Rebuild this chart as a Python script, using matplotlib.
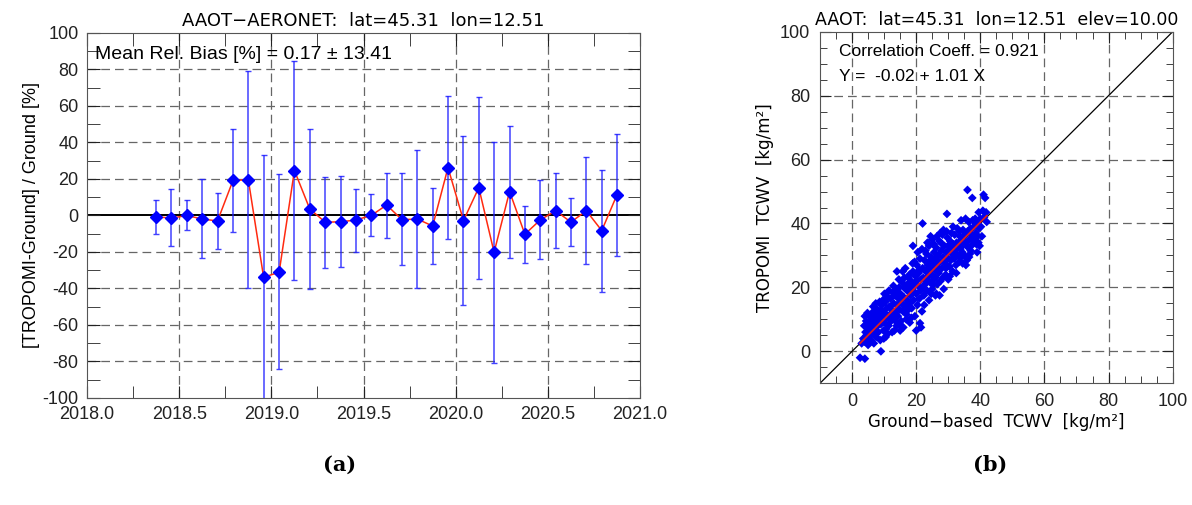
import matplotlib
matplotlib.use("Agg")
import matplotlib.pyplot as plt
import numpy as np
from matplotlib.ticker import MultipleLocator, FormatStrFormatter

plt.rcParams["axes.unicode_minus"] = False

# ---------------- Panel (a) data ----------------
dec_year = [2018.375, 2018.458, 2018.542, 2018.625, 2018.708, 2018.792, 2018.875, 2018.958,
            2019.042, 2019.125, 2019.208, 2019.292, 2019.375, 2019.458, 2019.542, 2019.625,
            2019.708, 2019.792, 2019.875, 2019.958, 2020.042, 2020.125, 2020.208, 2020.292,
            2020.375, 2020.458, 2020.542, 2020.625, 2020.708, 2020.792, 2020.875]
rel_bias = [-0.7, -1.5, 0.0, -2.0, -3.0, 19.2, 19.5, -33.9, -31.1, 24.6, 3.6, -3.7, -3.5,
            -2.5, 0.0, 5.7, -2.3, -2.0, -5.8, 26.2, -2.8, 15.2, -20.2, 13.1, -10.3, -2.5,
            2.6, -3.7, 2.6, -8.3, 11.4]
err_top = [8.5, 14.3, 8.5, 20.0, 12.5, 47.2, 79.0, 33.3, 22.6, 84.7, 47.2, 21.1, 21.5,
           14.7, 11.6, 23.5, 23.0, 36.0, 15.0, 65.3, 43.4, 64.7, 40.1, 48.9, 5.4, 19.3,
           23.5, 9.4, 31.9, 24.9, 44.8]
err_bot = [-10.0, -16.5, -8.0, -23.5, -18.4, -9.0, -40.0, -110.0, -84.3, -35.5, -40.3,
           -28.8, -28.4, -19.8, -11.2, -12.3, -27.0, -39.5, -26.5, -12.9, -49.0, -34.8,
           -80.6, -23.1, -25.8, -24.0, -18.0, -17.0, -26.6, -41.7, -22.2]
mean_bias, std_bias = 0.17, 13.41

# ---------------- Panel (b) data ----------------
ground_tcwv = [
    2.5, 4.0, 3.0, 3.5, 4.0, 4.2, 4.5, 4.8, 5.0, 5.2, 5.5, 5.8, 4.0, 4.8, 5.5, 3.8, 6.0, 5.0, 6.2, 4.4,
    6.5, 6.8, 7.0, 7.2, 7.5, 7.8, 8.0, 8.2, 8.5, 8.8, 9.0, 9.0, 9.2, 9.5, 9.8, 6.6, 7.4, 8.6, 9.4, 7.0,
    8.0, 9.9, 6.2, 7.6, 8.4, 9.6, 6.9, 8.9,
    10.0, 10.2, 10.4, 10.6, 10.8, 11.0, 11.2, 11.4, 11.6, 11.8, 12.0, 12.2, 12.4, 12.6, 12.8, 13.0,
    13.2, 13.4, 13.6, 13.8, 14.0, 14.0, 10.5, 11.5, 12.5, 13.5, 10.1, 11.1, 12.9, 13.9,
    14.3, 14.5, 14.7, 14.9, 15.1, 15.3, 15.5, 15.7, 15.9, 16.1, 16.3, 16.5, 16.7, 16.9, 17.1, 17.3,
    17.5, 17.7, 17.9, 18.0, 15.0, 16.0, 17.0, 18.0, 14.6, 15.8, 16.6, 17.6, 18.0, 14.8, 16.2, 17.2,
    18.2, 18.4, 18.6, 18.8, 19.0, 19.0, 19.2, 19.4, 19.6, 19.8, 20.0, 20.0, 20.2, 20.4, 20.6, 20.8,
    21.0, 21.2, 21.4, 21.6, 21.8, 22.0, 22.0, 21.5, 21.2, 18.5, 19.5, 20.5, 21.8, 22.0, 20.3, 19.1,
    21.0, 18.9,
    22.2, 22.4, 22.6, 22.8, 23.0, 23.2, 23.4, 23.6, 23.8, 24.0, 24.0, 24.2, 24.4, 24.6, 24.8, 25.0,
    25.0, 25.2, 25.4, 25.6, 25.8, 26.0, 26.0, 22.5, 23.5, 24.5, 25.5, 22.9, 24.1, 25.3, 23.3, 24.7,
    26.0,
    26.2, 26.4, 26.6, 26.8, 27.0, 27.2, 27.4, 27.6, 27.8, 28.0, 28.2, 28.4, 28.6, 28.8, 29.0, 29.2,
    29.4, 29.6, 29.8, 30.0, 30.0, 26.5, 27.5, 28.5, 29.5, 26.3, 27.3, 28.3, 29.3, 27.9, 26.9, 29.9,
    30.2, 30.4, 30.6, 30.8, 31.0, 31.2, 31.4, 31.6, 31.8, 32.0, 32.2, 32.4, 32.6, 32.8, 33.0, 33.2,
    33.4, 33.6, 33.8, 34.0, 34.0, 30.5, 31.5, 32.5, 33.5, 30.9, 32.1, 33.9,
    34.2, 34.4, 34.6, 34.8, 35.0, 35.2, 35.4, 35.6, 35.8, 36.0, 36.0, 36.2, 36.4, 36.6, 36.8, 37.0,
    37.2, 37.5, 37.4, 37.6, 37.8, 38.0, 35.5, 36.5, 37.0, 34.5,
    38.2, 38.4, 38.6, 38.8, 39.0, 39.2, 39.4, 39.5, 39.6, 39.8, 40.0, 40.2, 40.5, 41.0, 41.5, 41.2,
    41.8, 40.8, 42.0, 39.0]
tropomi_tcwv = [
    -2.0, -2.3, 2.5, 4.0, 3.0, 6.0, 5.0, 7.5, 4.0, 9.0, 6.5, 3.5, 11.0, 12.0, 11.0, 8.0, 8.0, 2.0, 5.5, 9.5,
    10.0, 2.5, 7.0, 12.5, 4.5, 9.5, 13.0, 6.0, 11.0, 3.5, 0.0, 8.5, 14.5, 10.5, 6.5, 14.0, 15.0, 15.5, 12.5, 5.0,
    8.0, 4.0, 12.0, 11.0, 9.8, 16.0, 8.8, 12.8,
    9.0, 12.0, 15.5, 7.0, 13.5, 10.5, 17.0, 8.0, 14.0, 11.5, 16.5, 9.5, 13.0, 18.5, 11.0, 15.0,
    6.5, 17.5, 12.5, 19.0, 25.0, 14.5, 4.5, 19.0, 6.0, 9.5, 18.0, 5.5, 20.5, 8.0,
    11.0, 16.5, 20.0, 13.0, 18.0, 9.5, 15.0, 21.5, 12.5, 17.0, 23.0, 14.0, 19.5, 10.0, 16.0, 21.0,
    13.0, 18.5, 24.0, 15.0, 6.5, 7.5, 11.5, 9.0, 22.5, 25.0, 26.0, 23.0, 20.0, 8.5, 20.0, 14.5,
    17.5, 22.0, 13.5, 19.5, 33.0, 25.0, 16.0, 21.0, 11.0, 23.5, 6.5, 18.0, 27.0, 14.5, 20.5, 24.5,
    16.5, 29.0, 19.0, 22.5, 12.5, 40.0, 26.0, 7.5, 8.8, 10.5, 28.0, 31.0, 32.0, 20.0, 22.3, 18.8,
    25.5, 27.5,
    23.0, 17.5, 28.5, 21.0, 25.0, 30.5, 19.0, 27.0, 23.5, 33.0, 16.0, 26.0, 21.5, 29.5, 24.0, 35.0,
    19.5, 27.5, 22.5, 31.0, 25.5, 17.5, 29.0, 14.5, 34.0, 36.0, 33.5, 31.5, 28.2, 20.8, 22.0, 18.0,
    23.0,
    32.5, 26.5, 21.0, 30.0, 24.5, 34.5, 28.0, 22.0, 31.5, 26.0, 36.5, 29.5, 19.5, 33.0, 27.5, 24.0,
    31.0, 43.0, 35.5, 29.0, 22.5, 36.0, 37.0, 38.0, 37.5, 18.0, 17.5, 23.0, 26.0, 33.8, 27.8, 33.0,
    31.5, 26.5, 34.5, 28.5, 37.0, 30.5, 25.0, 33.5, 29.0, 36.5, 31.5, 27.0, 34.0, 38.5, 30.0, 33.0,
    28.0, 36.0, 32.0, 41.0, 29.5, 23.5, 39.0, 24.5, 37.5, 32.8, 29.8, 34.5,
    35.0, 31.0, 38.0, 33.5, 30.0, 36.5, 41.5, 34.0, 28.5, 50.5, 37.5, 32.5, 40.5, 35.0, 30.5, 38.5,
    33.0, 48.0, 36.5, 41.0, 34.5, 39.0, 27.0, 29.5, 31.5, 27.5,
    35.5, 41.5, 37.0, 33.5, 40.0, 36.0, 34.0, 43.5, 38.5, 33.0, 41.5, 39.0, 36.0, 49.0, 48.0, 42.0,
    43.5, 44.0, 40.5, 31.0]
corr_coeff = 0.921
fit_intercept, fit_slope = -0.02, 1.01

# ---------------- Figure ----------------
fig = plt.figure(figsize=(11.92, 5.05), dpi=100)
tick_font = "Liberation Sans"
idl_font = "DejaVu Sans"
grid_kw = dict(color="#666666", linestyle=(0, (7, 4)), linewidth=0.9)

# Panel (a)
ax1 = fig.add_axes([0.073, 0.212, 0.464, 0.7228])
ax1.set_xlim(2018.0, 2021.0)
ax1.set_ylim(-100, 100)
for gx in [2018.5, 2019.0, 2019.5, 2020.0, 2020.5]:
    ax1.axvline(gx, zorder=0, **grid_kw)
for gy in [-80, -60, -40, -20, 20, 40, 60, 80]:
    ax1.axhline(gy, zorder=0, **grid_kw)
ax1.axhline(0, color="black", linewidth=1.4, zorder=1)
yerr = [np.array(rel_bias) - np.array(err_bot), np.array(err_top) - np.array(rel_bias)]
ax1.errorbar(dec_year, rel_bias, yerr=yerr, fmt="none", ecolor="#2020ff",
             elinewidth=1.1, capsize=2.5, capthick=1.0, alpha=0.85, zorder=2)
ax1.plot(dec_year, rel_bias, color="#ff2a10", linewidth=1.1, zorder=3)
ax1.plot(dec_year, rel_bias, linestyle="none", marker="D", markersize=6,
         color="#0000ff", zorder=4)
ax1.xaxis.set_major_locator(MultipleLocator(0.5))
ax1.xaxis.set_minor_locator(MultipleLocator(0.25))
ax1.xaxis.set_major_formatter(FormatStrFormatter("%.1f"))
ax1.yaxis.set_major_locator(MultipleLocator(20))
ax1.yaxis.set_minor_locator(MultipleLocator(10))
ax1.tick_params(which="both", direction="in", top=True, right=True,
                labelsize=13, colors="#222222", pad=6)
ax1.tick_params(which="major", length=9)
ax1.tick_params(which="minor", length=9)
for lab in ax1.get_xticklabels() + ax1.get_yticklabels():
    lab.set_fontfamily(tick_font)
ax1.set_ylabel("[TROPOMI-Ground] / Ground [%]", fontsize=13, fontfamily=tick_font,
               labelpad=2)
ax1.set_title("AAOT\u2212AERONET:  lat=45.31  lon=12.51", fontsize=13,
              fontfamily=idl_font, pad=5)
ax1.text(0.015, 0.965, f"Mean Rel. Bias [%] = {mean_bias:.2f} \u00b1 {std_bias:.2f}",
         transform=ax1.transAxes, ha="left", va="top", fontsize=14,
         fontfamily=tick_font)
for sp in ax1.spines.values():
    sp.set_color("#555555")

# Panel (b)
ax2 = fig.add_axes([0.6879, 0.241, 0.2959, 0.6962])
ax2.set_xlim(-10, 100)
ax2.set_ylim(-10, 100)
for g in [0, 20, 40, 60, 80]:
    ax2.axvline(g, zorder=0, **grid_kw)
    ax2.axhline(g, zorder=0, **grid_kw)
ax2.plot([-10, 100], [-10, 100], color="black", linewidth=0.9, zorder=1)
ax2.scatter(ground_tcwv, tropomi_tcwv, marker="D", s=20, color="#0000ee",
            edgecolors="none", zorder=2)
xfit = np.array([min(ground_tcwv), max(ground_tcwv)])
ax2.plot(xfit, fit_intercept + fit_slope * xfit, color="#dd2020", linewidth=1.3, zorder=3)
ax2.xaxis.set_major_locator(MultipleLocator(20))
ax2.xaxis.set_minor_locator(MultipleLocator(5))
ax2.yaxis.set_major_locator(MultipleLocator(20))
ax2.yaxis.set_minor_locator(MultipleLocator(5))
ax2.tick_params(which="both", direction="in", top=True, right=True,
                labelsize=13, colors="#222222", pad=7)
ax2.tick_params(which="major", length=8)
ax2.tick_params(which="minor", length=5)
for lab in ax2.get_xticklabels() + ax2.get_yticklabels():
    lab.set_fontfamily(tick_font)
ax2.set_xlabel("Ground\u2212based  TCWV  [kg/m\u00b2]", fontsize=12, fontfamily=idl_font,
               labelpad=2)
ax2.set_ylabel("TROPOMI  TCWV  [kg/m\u00b2]", fontsize=12, fontfamily=idl_font,
               labelpad=4)
ax2.set_title("AAOT:  lat=45.31  lon=12.51  elev=10.00", fontsize=12.5,
              fontfamily=idl_font, pad=5)
ax2.text(0.055, 0.965, f"Correlation Coeff. = {corr_coeff:.3f}", transform=ax2.transAxes,
         ha="left", va="top", fontsize=12.5, fontfamily=tick_font)
ax2.text(0.055, 0.895, f"Y =  {fit_intercept:.2f} + {fit_slope:.2f} X",
         transform=ax2.transAxes, ha="left", va="top", fontsize=12.5, fontfamily=tick_font)
for sp in ax2.spines.values():
    sp.set_color("#555555")

# panel labels
fig.text(340 / 1192, 1 - 465 / 505, "(a)", ha="center", va="center", fontsize=15,
         fontweight="bold", fontfamily="DejaVu Serif")
fig.text(990 / 1192, 1 - 465 / 505, "(b)", ha="center", va="center", fontsize=15,
         fontweight="bold", fontfamily="DejaVu Serif")

fig.savefig("out.png", dpi=100)
